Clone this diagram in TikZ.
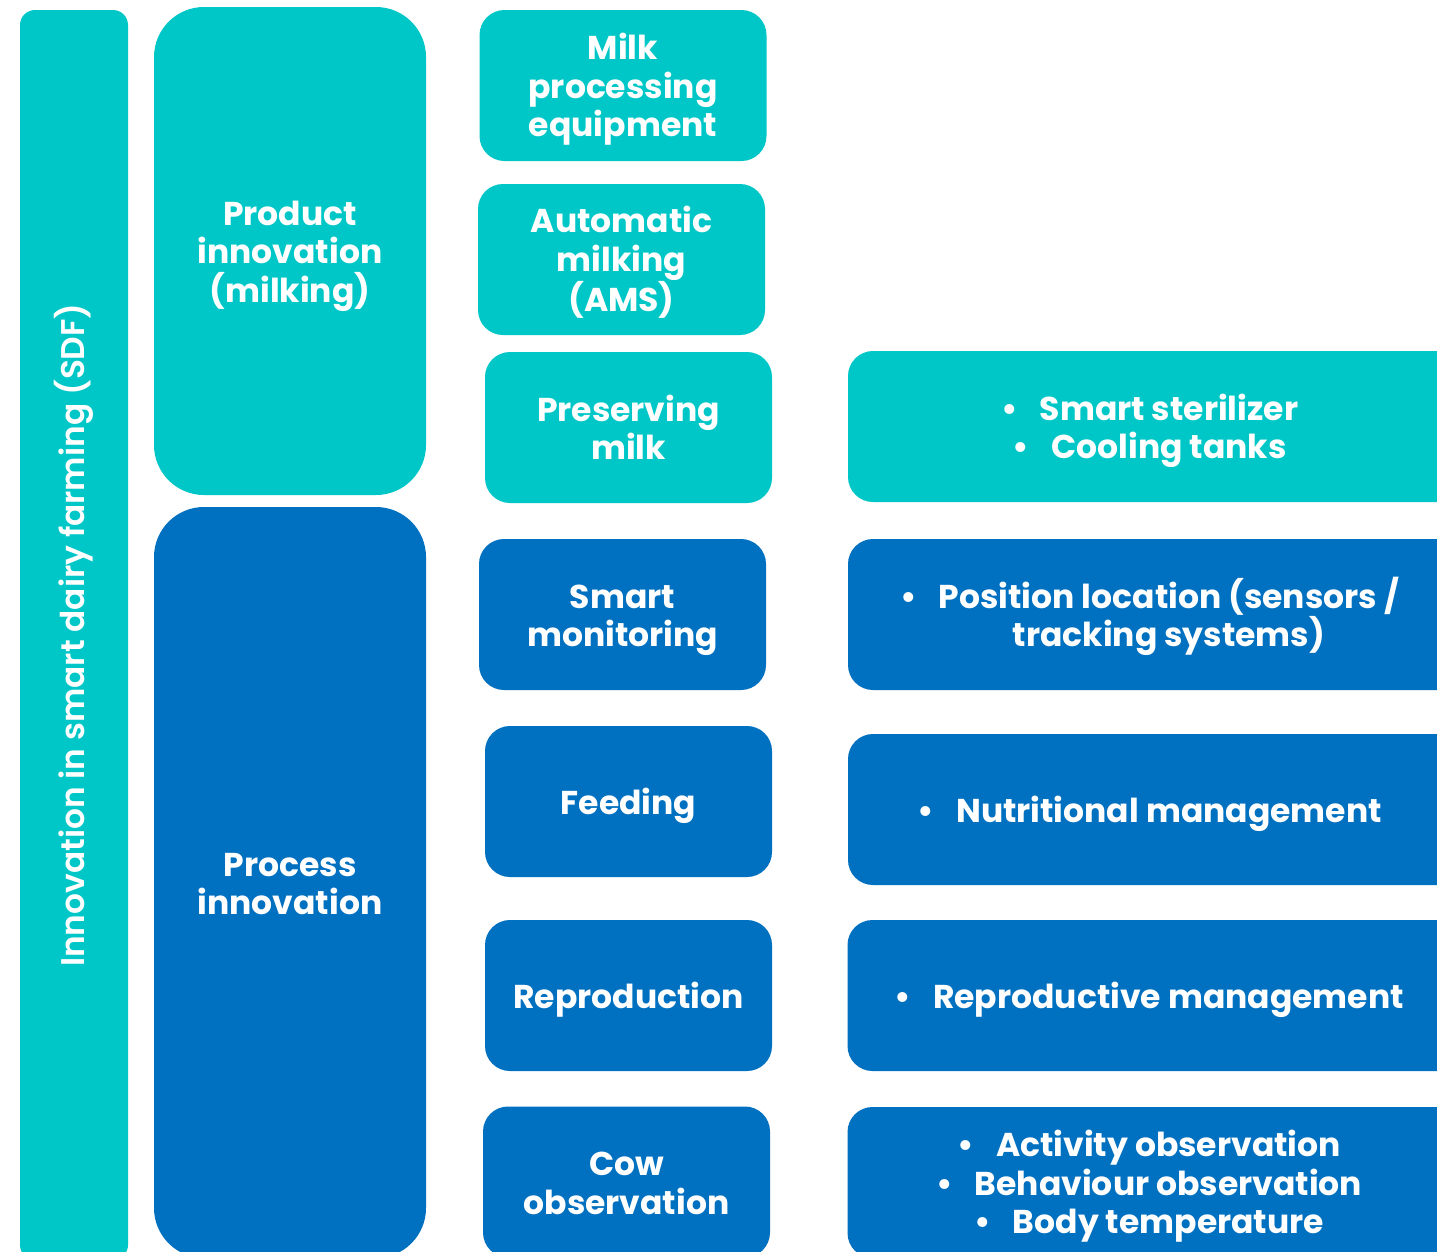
\documentclass[tikz,border=0pt]{standalone}
\usepackage{fontspec}
\setmainfont{Poppins}
\newfontfamily\semibold{Poppins SemiBold}
\definecolor{teal}{HTML}{00C7C7}
\definecolor{ocean}{HTML}{0070C0}
% bullet hanging to the left of a centred line
\newcommand{\itm}{\llap{•\hspace{22pt}}}
% line struts that fix the vertical placement of the text block
\newcommand{\ts}{\rule{0pt}{37pt}}
\newcommand{\bs}{\rule[-11.5pt]{0pt}{0pt}}
\begin{document}
\begin{tikzpicture}[x=1pt,y=-1pt,
  boxtext/.style={text=white, align=center, font=\fontsize{33}{38.5}\selectfont\bfseries},
  cell/.style={boxtext, rounded corners=25pt, inner sep=0pt, minimum width=287pt, minimum height=151pt},
  wide/.style={cell, minimum width=642pt},
  tealfill/.style={fill=teal},
  bluefill/.style={fill=ocean},
  pillar/.style={boxtext, rounded corners=50pt, inner sep=0pt, minimum width=272pt}]
\useasboundingbox (0,0) rectangle (1437,1251);
\clip (0,0) rectangle (1437,1251);
\fill[white] (0,0) rectangle (1437,1251);

% outer column
\node[tealfill, rounded corners=15pt, inner sep=0pt, minimum width=108pt, minimum height=1250pt]
  (sdf) at (74,635) {};
\node[rotate=90, text=white, font=\semibold\fontsize{32.8}{36}\selectfont] (sdflabel) at (sdf.center)
  {Innovation in smart dairy farming (SDF)};

% innovation types
\node[pillar, tealfill, minimum height=488pt] (prod) at (290,251) {\ts Product\\innovation\\(milking)\bs};
\node[pillar, bluefill, minimum height=751pt] (proc) at (290,882.5) {\ts Process\\innovation\bs};

% areas
\node[cell, tealfill] (milk) at (623,85.5) {\ts Milk\\processing\\equipment\bs};
\node[cell, tealfill] (ams)  at (621.5,259.5) {\ts Automatic\\milking\\(AMS)\bs};
\node[cell, tealfill] (pres) at (628.5,427.5) {\ts Preserving\\milk\bs};
\node[cell, bluefill] (mon)  at (622.5,614.5) {\ts Smart\\monitoring\bs};
\node[cell, bluefill] (feed) at (628.5,801.5) {\ts Feeding\bs};
\node[cell, bluefill] (repr) at (628.5,995.5) {\ts Reproduction\bs};
\node[cell, bluefill] (cow)  at (626.5,1182) {\ts Cow\\observation\bs};

% technologies
\node[wide, tealfill] (ster) at (1169,426.5) {\ts\itm Smart sterilizer\\\itm Cooling tanks\bs};
\node[wide, bluefill] (pos)  at (1169,614.5) {\ts\itm Position location (sensors /\\tracking systems)\bs};
\node[wide, bluefill] (nut)  at (1169,809.5) {\ts\itm Nutritional management\bs};
\node[wide, bluefill] (rep)  at (1168.5,995.5) {\ts\itm Reproductive management\bs};
\node[wide, bluefill] (act)  at (1168.5,1182.5) {\ts\itm Activity observation\\\itm Behaviour observation\\\itm Body temperature\bs};
\end{tikzpicture}
\end{document}
